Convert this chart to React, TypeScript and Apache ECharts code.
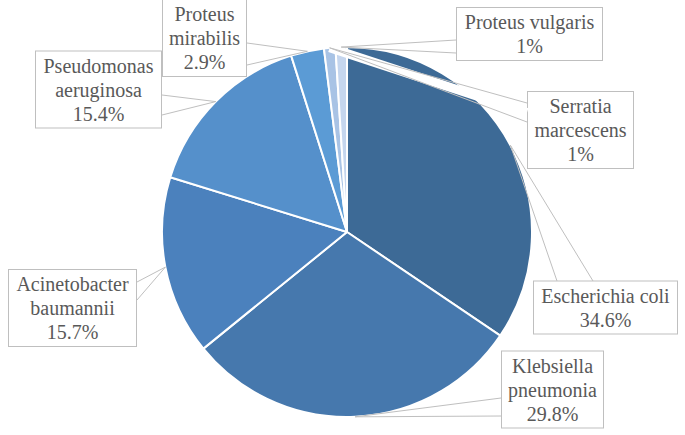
import React, { useEffect, useRef } from "react";
import * as echarts from "echarts";

const categories = [
  "Escherichia coli",
  "Klebsiella\npneumonia",
  "Acinetobacter\nbaumannii",
  "Pseudomonas\naeruginosa",
  "Proteus\nmirabilis",
  "Serratia\nmarcescens",
  "Proteus vulgaris",
];
const shares = [34.6, 29.8, 15.7, 15.4, 2.9, 1, 1];
const sliceColors = ["#3d6a96", "#4678ad", "#4b81bd", "#5590cb", "#5b9bd5", "#a8c3e5", "#c5d6ee"];

// label box layout: [centerX, centerY, width]
const labelBoxes: number[][] = [
  [605.5, 307.5, 145],
  [552.5, 389.5, 103],
  [72.5, 308, 129],
  [98.5, 89.5, 127],
  [204.5, 38, 85],
  [580.5, 130, 107],
  [529.5, 34, 147],
];
// callout base points on each label box: [x1, y1, x2, y2]
const calloutBases: number[][] = [
  [557, 281, 593, 281],
  [501, 398, 501, 416],
  [137, 282, 137, 300],
  [162, 95, 162, 115],
  [247, 43, 247, 65],
  [527, 103, 527, 122],
  [456, 40, 456, 53],
];
// callouts whose wedge crosses a slice and needs a white fill
const filledCallouts = [5];

const FONT = "serif";
const CLEAR = "rgba(0,0,0,0)";

// role: 0 = visible pie + labels, 1 = white wedge fill, 2/3 = callout edges
function makeSeries(role: number) {
  const ghost = role > 0;
  const textColor = ghost ? CLEAR : "#595959";
  const data = categories.map((name, i) => ({
    name,
    value: shares[i],
    itemStyle: ghost ? { color: CLEAR, borderWidth: 0 } : { color: sliceColors[i] },
    label: { width: labelBoxes[i][2] - 10 },
    labelLine:
      role === 0
        ? { show: false }
        : role === 1
        ? filledCallouts.includes(i)
          ? { show: true, lineStyle: { color: "#ffffff", width: 9, cap: "butt" } }
          : { show: false }
        : { show: true, lineStyle: { color: "#bfbfbf", width: 1 } },
  }));
  return {
    type: "pie",
    center: [347, 232],
    radius: 185,
    startAngle: 90,
    clockwise: true,
    avoidLabelOverlap: false,
    silent: ghost,
    z: 2 + role,
    data,
    itemStyle: { borderColor: ghost ? CLEAR : "#ffffff", borderWidth: ghost ? 0 : 2 },
    emphasis: { disabled: true },
    label: {
      show: true,
      position: "outside",
      formatter: (p: any) => `${p.name}\n${p.value}%`,
      fontFamily: FONT,
      fontSize: 20,
      lineHeight: 24,
      color: textColor,
      align: "center",
      overflow: "none",
      backgroundColor: ghost ? CLEAR : "#ffffff",
      borderColor: ghost ? CLEAR : "#bfbfbf",
      borderWidth: 1,
      padding: [2, 4],
    },
    labelLine: {
      show: true,
      length: 20,
      length2: 20,
      lineStyle: { color: "#bfbfbf", width: 1 },
    },
    labelLayout: (params: any) => {
      const i = params.dataIndex;
      const b = labelBoxes[i];
      const c = calloutBases[i];
      const tip = params.labelLinePoints ? params.labelLinePoints[0] : [b[0], b[1]];
      const end =
        role === 2 ? [c[0], c[1]] : role === 3 ? [c[2], c[3]] : [(c[0] + c[2]) / 2, (c[1] + c[3]) / 2];
      return {
        x: b[0],
        y: b[1],
        align: "center",
        verticalAlign: "middle",
        labelLinePoints: [tip, end],
      };
    },
  };
}

export default function App() {
  const ref = useRef<HTMLDivElement>(null);
  useEffect(() => {
    if (!ref.current) return;
    const chart = echarts.init(ref.current, null, { renderer: "svg" });
    chart.setOption({
      animation: false,
      backgroundColor: "#ffffff",
      textStyle: { fontFamily: FONT },
      series: [makeSeries(0), makeSeries(1), makeSeries(2), makeSeries(3)],
    });
    return () => chart.dispose();
  }, []);
  return (
    <div
      ref={ref}
      style={{ position: "fixed", left: 0, top: 0, width: 685, height: 435 }}
    />
  );
}
